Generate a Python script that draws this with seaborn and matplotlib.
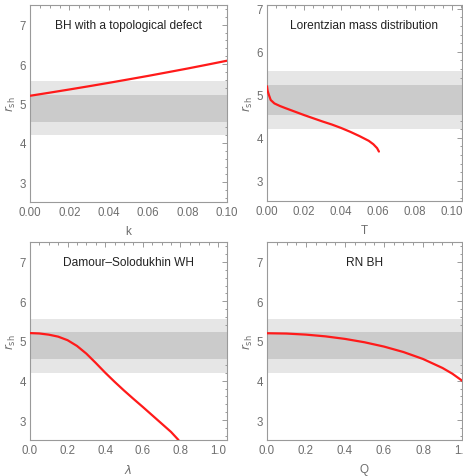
import numpy as np
import pandas as pd
import matplotlib
matplotlib.use("Agg")
import matplotlib.pyplot as plt
from matplotlib.ticker import MultipleLocator, FormatStrFormatter
import seaborn as sns

# ----- data -----
k_vals = [0.0, 0.01, 0.02, 0.03, 0.04, 0.05, 0.06, 0.07, 0.08, 0.09, 0.10]
r_defect = [5.196, 5.275, 5.356, 5.439, 5.524, 5.612, 5.701, 5.794, 5.888, 5.986, 6.086]

T_vals = [0.0, 0.0003, 0.001, 0.002, 0.004, 0.007, 0.01, 0.015, 0.02, 0.025,
          0.03, 0.035, 0.04, 0.045, 0.05, 0.055, 0.0575, 0.0595, 0.0605]
r_lorentz = [5.20, 5.10, 5.00, 4.88, 4.80, 4.74, 4.69, 4.61, 4.53, 4.455,
             4.38, 4.31, 4.23, 4.14, 4.04, 3.93, 3.85, 3.76, 3.68]

lam_vals = [0.0, 0.05, 0.1, 0.15, 0.2, 0.25, 0.3, 0.35, 0.4, 0.45, 0.5,
            0.55, 0.6, 0.65, 0.7, 0.75, 0.79]
r_ds = [5.20, 5.19, 5.16, 5.11, 5.02, 4.875, 4.68, 4.445, 4.20, 3.97, 3.75,
        3.54, 3.335, 3.125, 2.915, 2.705, 2.50]

Q_vals = [0.0, 0.1, 0.2, 0.3, 0.4, 0.5, 0.6, 0.7, 0.8, 0.9, 0.95, 1.0, 1.02, 1.05]
r_rn = [5.196, 5.188, 5.161, 5.117, 5.053, 4.968, 4.859, 4.721, 4.546, 4.319,
        4.176, 4.000, 3.915, 3.754]

band_2sigma = (4.20, 5.56)
band_1sigma = (4.54, 5.22)

titles = ["BH with a topological defect", "Lorentzian mass distribution",
          "Damour\u2013Solodukhin WH", "RN BH"]
xlabels = ["k", "T", r"$\lambda$", "Q"]

# ----- style -----
sns.set_style("white")
plt.rcParams['font.family'] = ['Liberation Sans', 'DejaVu Sans']
plt.rcParams['mathtext.fontset'] = 'dejavusans'

W, H = 463, 477
fig = plt.figure(figsize=(W / 100, H / 100), dpi=100)

GRAY_TXT = "#6e6e6e"
GRAY_FRAME = "#9a9a9a"

# (left, top, width, height) in pixels, xlim, ylim, x major, x minor, x fmt
panels = [
    ((30, 6, 197, 197), (0, 0.10), (2.5, 7.5), 0.02, 0.005, "%.2f"),
    ((267, 6, 195, 196), (0, 0.1054), (2.53, 7.09), 0.02, 0.005, "%.2f"),
    ((30, 243, 197, 198), (0, 1.048), (2.5, 7.5), 0.2, 0.05, "%.1f"),
    ((267, 243, 195, 198), (0, 1.0), (2.5, 7.5), 0.2, 0.05, "%.1f"),
]
datasets = [(k_vals, r_defect), (T_vals, r_lorentz), (lam_vals, r_ds), (Q_vals, r_rn)]

for i, (box, xlim, ylim, xmaj, xmin, xfmt) in enumerate(panels):
    l, t, w, h = box
    ax = fig.add_axes([l / W, 1 - (t + h) / H, w / W, h / H])
    ax.axhspan(*band_2sigma, color="#e6e6e6", lw=0, zorder=0)
    ax.axhspan(*band_1sigma, color="#cbcbcb", lw=0, zorder=1)

    xs, ys = datasets[i]
    df = pd.DataFrame({"x": xs, "r": ys})
    sns.lineplot(data=df, x="x", y="r", ax=ax, color="#ff1a1a", lw=1.6,
                 zorder=3, sort=False)

    ax.set_xlim(*xlim)
    ax.set_ylim(*ylim)
    ax.xaxis.set_major_locator(MultipleLocator(xmaj))
    ax.xaxis.set_minor_locator(MultipleLocator(xmin))
    ax.xaxis.set_major_formatter(FormatStrFormatter(xfmt))
    ax.yaxis.set_major_locator(MultipleLocator(1))
    ax.yaxis.set_minor_locator(MultipleLocator(0.2))
    ax.tick_params(which="both", direction="in", top=True, right=True,
                   colors=GRAY_FRAME, labelcolor=GRAY_TXT, labelsize=8.3,
                   width=0.7)
    ax.tick_params(which="major", length=3.5, pad=3)
    ax.tick_params(which="minor", length=1.8)
    for sp in ax.spines.values():
        sp.set_color(GRAY_FRAME)
        sp.set_linewidth(0.8)

    ax.set_xlabel(xlabels[i], color=GRAY_TXT, fontsize=8.5, labelpad=5)
    ax.set_ylabel(r"$r_{\mathrm{sh}}$", color=GRAY_TXT, fontsize=8.5, labelpad=1)
    ax.text(0.5, 0.90, titles[i], transform=ax.transAxes, ha="center",
            va="center", fontsize=8.6, color="#222222")

fig.savefig("out.png", dpi=100)
